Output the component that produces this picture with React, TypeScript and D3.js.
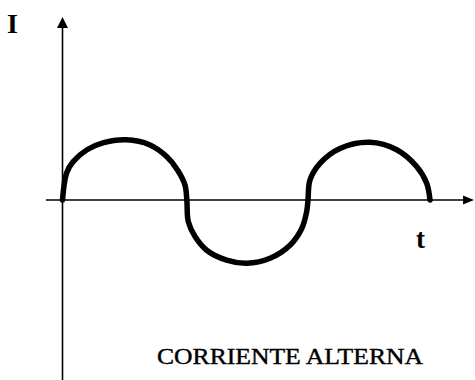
import React from "react";
import * as d3 from "d3";

// time (half-periods) and current (relative amplitude)
const tValues = [
  0, 0.034, 0.088, 0.2, 0.33, 0.52, 0.71, 0.85, 0.94, 1.0, 1.015,
  1.027, 1.082, 1.177, 1.34, 1.504, 1.694, 1.857, 1.953, 1.993, 2.004,
  2.02, 2.102, 2.265, 2.51, 2.728, 2.891, 2.973, 3.0,
];
const iValues = [
  0, 0.44, 0.62, 0.81, 0.92, 0.97, 0.89, 0.7, 0.48, 0.24, 0,
  -0.35, -0.59, -0.81, -0.97, -1.02, -0.94, -0.73, -0.46, -0.19, 0,
  0.32, 0.59, 0.83, 0.93, 0.81, 0.54, 0.27, 0,
];
const yLabel = "I";
const xLabel = "t";
const caption = "CORRIENTE ALTERNA";

const W = 475;
const H = 380;

export default function App() {
  const x = d3.scaleLinear().domain([0, 3]).range([62.5, 430]);
  const y = d3.scaleLinear().domain([-1, 1]).range([262, 138]);
  const pts: [number, number][] = tValues.map((t, i) => [t, iValues[i]]);
  const line = d3
    .line<[number, number]>()
    .x((d) => x(d[0]))
    .y((d) => y(d[1]))
    .curve(d3.curveCatmullRom.alpha(0.5));
  const x0 = x(0);
  const y0 = y(0);
  const font = "'Liberation Serif', 'Times New Roman', serif";
  return (
    <div style={{ position: "fixed", left: 0, top: 0 }}>
      <svg width={W} height={H} style={{ display: "block", background: "#fff" }}>
        {/* y axis */}
        <line x1={x0} y1={380} x2={x0} y2={26} stroke="#000" strokeWidth={1.6} />
        <path d={`M${x0},17 L${x0 - 5.5},28 L${x0 + 5.5},28 Z`} fill="#000" />
        {/* x axis */}
        <line x1={46} y1={y0} x2={466} y2={y0} stroke="#000" strokeWidth={1.6} />
        <path d={`M474,${y0} L463,${y0 - 4.5} L463,${y0 + 4.5} Z`} fill="#000" />
        {/* curve */}
        <path d={line(pts) || ""} fill="none" stroke="#000" strokeWidth={5.5} strokeLinecap="round" strokeLinejoin="round" />
        <text x={7} y={33} fontFamily={font} fontSize={28} fontWeight="bold">{yLabel}</text>
        <text x={416} y={248} fontFamily={font} fontSize={27} fontWeight="bold">{xLabel}</text>
        <text x={157} y={364} fontFamily={font} fontSize={22.5} textLength={266} lengthAdjust="spacingAndGlyphs" stroke="#000" strokeWidth={0.4}>{caption}</text>
      </svg>
    </div>
  );
}
